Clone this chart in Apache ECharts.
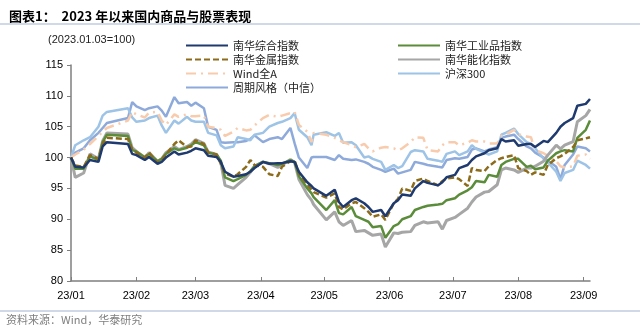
<!DOCTYPE html>
<html>
<head>
<meta charset="utf-8">
<script src="https://cdn.jsdelivr.net/npm/echarts@6/dist/echarts.min.js"></script>
<style>
html,body{margin:0;padding:0;background:#fff;}
#chart{width:640px;height:329px;}
</style>
</head>
<body>
<div id="chart"></div>
<script>
// ---- data ----
const dates = [
 '2023-01-03','2023-01-05','2023-01-09','2023-01-12','2023-01-16','2023-01-18','2023-01-20','2023-01-30','2023-02-01','2023-02-03',
 '2023-02-07','2023-02-09','2023-02-13','2023-02-15','2023-02-17','2023-02-21','2023-02-23','2023-02-27','2023-03-01','2023-03-03',
 '2023-03-07','2023-03-09','2023-03-13','2023-03-15','2023-03-17','2023-03-21','2023-03-23','2023-03-27','2023-03-29','2023-03-31',
 '2023-04-04','2023-04-07','2023-04-11','2023-04-13','2023-04-17','2023-04-19','2023-04-21','2023-04-25','2023-04-27','2023-04-28',
 '2023-05-04','2023-05-08','2023-05-10','2023-05-12','2023-05-16','2023-05-18','2023-05-22','2023-05-24','2023-05-26','2023-05-30',
 '2023-06-01','2023-06-05','2023-06-07','2023-06-09','2023-06-13','2023-06-15','2023-06-19','2023-06-21','2023-06-26','2023-06-28',
 '2023-06-30','2023-07-04','2023-07-06','2023-07-10','2023-07-12','2023-07-14','2023-07-18','2023-07-20','2023-07-24','2023-07-26',
 '2023-07-28','2023-08-01','2023-08-03','2023-08-07','2023-08-09','2023-08-11','2023-08-15','2023-08-17','2023-08-21','2023-08-23',
 '2023-08-25','2023-08-29','2023-08-31','2023-09-04','2023-09-06'
];
const nanhuaComposite = [
 100, 98.5, 98.4, 99.6, 99.3, 101.8, 102.5, 102.2, 100.6, 100.4,
 99.6, 100.1, 99.0, 99.3, 100.0, 101.0, 100.5, 100.8, 101.1, 101.5,
 101.2, 100.3, 100.1, 99.3, 97.7, 96.9, 97.0, 97.3, 97.7, 98.3,
 99.3, 99.0, 99.1, 99.1, 99.4, 99.3, 97.7, 96.0, 95.4, 95.0,
 93.8, 94.8, 92.8, 92.0, 93.1, 93.4, 92.6, 92.0, 91.2, 91.5,
 90.5, 92.6, 93.1, 94.0, 93.8, 95.0, 96.2, 95.9, 95.5, 96.0,
 96.8, 97.2, 98.3, 98.8, 99.6, 100.2, 100.7, 101.2, 101.5, 103.0,
 102.6, 102.8, 101.9, 102.2, 102.2, 101.7, 102.7, 102.5, 104.0, 105.0,
 105.6, 106.4, 108.4, 108.7, 109.5
];
const nanhuaIndustrial = [
 100, 98.2, 98.2, 100.2, 99.6, 102.5, 103.7, 103.5, 101.2, 101.0,
 100.0, 100.6, 99.4, 99.8, 100.6, 101.5, 101.2, 101.6, 102.0, 102.5,
 102.0, 100.8, 100.5, 99.5, 96.8, 96.2, 96.5, 97.2, 97.8, 98.6,
 99.3, 99.1, 98.8, 99.0, 99.6, 99.3, 97.0, 95.0, 94.2, 93.6,
 91.5, 93.1, 91.0, 90.8, 92.0, 90.5, 89.9, 89.6, 88.7, 88.9,
 87.0, 88.9, 89.2, 90.0, 90.5, 91.5, 92.0, 92.2, 92.4, 92.5,
 93.1, 93.4, 94.0, 94.7, 95.2, 96.2, 96.0, 97.2, 96.9, 98.8,
 99.3, 99.8, 99.8, 98.5, 98.7, 98.1, 98.4, 99.5, 100.7, 101.0,
 101.2, 101.0, 103.2, 104.5, 106.0
];
const nanhuaMetal = [
 100, 98.7, 98.5, 100.4, 99.8, 102.2, 103.2, 103.0, 101.3, 100.8,
 100.0, 100.8, 99.2, 99.6, 100.5, 102.2, 102.8, 101.7, 101.8, 102.8,
 102.2, 100.8, 100.5, 99.0, 97.4, 96.9, 97.3, 98.5, 99.6, 98.8,
 98.5, 97.3, 97.0, 98.5, 99.4, 99.5, 97.5, 95.6, 94.8, 94.4,
 93.5, 94.2, 92.0, 91.6, 92.6, 92.8, 91.8, 91.2, 90.4, 90.8,
 89.9, 92.6, 93.3, 95.0, 94.6, 96.2, 96.6, 96.2, 95.5, 96.2,
 96.6, 96.8, 96.5, 95.4, 98.3, 98.0, 97.8, 98.6, 99.6, 99.9,
 100.1, 100.4, 98.3, 97.8, 97.2, 97.6, 97.2, 98.8, 99.9, 100.2,
 100.6, 101.7, 102.8, 103.1, 103.3
];
const nanhuaEnergyChem = [
 100, 96.8, 97.5, 100.6, 99.8, 102.7, 104.0, 103.8, 101.6, 101.0,
 100.0, 100.8, 99.4, 99.8, 100.8, 101.8, 101.3, 101.8, 102.2, 102.9,
 102.3, 100.9, 100.5, 99.2, 95.5, 95.0, 95.6, 96.8, 97.6, 98.6,
 99.3, 99.0, 98.4, 98.8, 99.7, 99.2, 96.5, 94.0, 93.1, 92.4,
 89.9, 91.2, 89.6, 89.0, 89.8, 88.0, 88.2, 87.8, 87.4, 87.6,
 85.5, 87.8, 87.7, 87.9, 88.0, 89.0, 89.6, 89.4, 89.6, 88.4,
 89.8, 90.3, 90.8, 91.8, 92.8, 93.6, 94.4, 94.5, 95.6, 98.0,
 98.3, 98.0, 97.6, 98.3, 98.3, 98.6, 99.4, 100.4, 102.0, 101.4,
 102.0, 102.6, 105.8, 106.8, 107.8
];
const windAllA = [
 100, 100.5, 101.3, 102.2, 103.5, 104.2, 104.8, 106.0, 107.4, 107.0,
 106.5, 107.3, 107.4, 106.0, 105.3, 107.0, 106.6, 107.0, 106.7, 106.7,
 106.8, 105.0, 104.8, 104.5, 103.5, 104.2, 104.8, 104.4, 104.5, 105.2,
 106.4, 106.9, 106.6, 106.8, 107.2, 107.4, 105.3, 104.2, 102.5, 104.0,
 103.7, 103.2, 102.8, 102.5, 102.0, 101.7, 102.2, 101.5, 101.0, 101.6,
 101.7, 101.5, 101.2, 101.5, 102.5, 103.3, 103.2, 101.2, 101.0, 102.0,
 102.5, 102.5, 102.0, 102.4, 102.8, 102.6, 102.6, 102.3, 102.3, 103.5,
 103.7, 104.5, 103.8, 103.4, 103.3, 101.2, 100.7, 100.3, 99.4, 98.6,
 98.4, 98.6, 100.3, 100.5, 99.8
];
const csi300 = [
 100, 102.0, 102.8, 103.3, 105.0, 106.8, 107.4, 108.0, 106.5, 105.8,
 106.0, 106.4, 106.8, 105.2, 104.0, 106.0, 105.5, 106.6, 106.0, 105.8,
 105.8, 104.0, 103.6, 102.0, 101.5, 101.8, 103.3, 103.0, 102.8, 103.7,
 104.0, 105.0, 105.6, 105.8, 106.4, 107.2, 104.5, 103.3, 102.0, 103.7,
 104.1, 103.5, 104.0, 102.4, 102.5, 102.0, 100.0, 100.2, 99.8, 99.3,
 98.0, 98.8, 98.3, 98.6, 100.9, 101.2, 101.0, 99.8, 99.5, 99.3,
 100.6, 101.0, 100.4, 101.0, 102.0, 101.4, 100.8, 100.5, 101.0, 103.7,
 104.0, 104.7, 103.8, 102.5, 102.2, 101.5, 99.8, 99.2, 97.7, 96.2,
 97.5, 98.0, 99.5, 98.8, 98.2
];
const cyclicalStyle = [
 100, 100.8, 101.5, 102.8, 104.0, 104.8, 105.6, 106.4, 109.0, 108.3,
 107.7, 108.0, 108.3, 107.6, 106.6, 109.8, 108.8, 109.0, 108.4, 108.9,
 108.0, 105.0, 104.5, 102.5, 102.4, 102.5, 102.5, 102.7, 103.0, 103.6,
 102.5, 103.0, 103.3, 103.0, 104.8, 102.3, 100.0, 98.3, 100.0, 100.1,
 100.1, 99.6, 100.4, 99.8, 99.6, 99.7, 99.3, 99.0, 98.5, 98.0,
 97.7, 98.2, 97.4, 97.6, 98.0, 99.3, 99.0, 98.8, 98.5, 98.4,
 99.6, 99.9, 99.8, 100.1, 101.3, 101.5, 101.0, 101.3, 101.7, 103.2,
 103.4, 103.7, 103.0, 101.8, 101.5, 100.8, 100.0, 99.5, 98.5, 96.5,
 98.8, 100.5, 101.8, 101.5, 101.0
];
const xTickDates = ['2023-01-03','2023-02-03','2023-03-03','2023-04-03','2023-05-03','2023-06-03','2023-07-03','2023-08-03','2023-09-03'];
const xRange = ['2023-01-03', '2023-09-06'];
const yTicks = {min: 80, max: 115, step: 5};
const titleText = '图表1：  2023 年以来国内商品与股票表现';
const baseText = '(2023.01.03=100)';
const sourceText = '资料来源：Wind，华泰研究';
const names = ['南华综合指数','南华工业品指数','南华金属指数','南华能化指数','Wind全A','沪深300','周期风格（中信）'];

// ---- chart ----
const ts = s => { const p = s.split('-').map(Number); return new Date(p[0], p[1] - 1, p[2]).getTime(); };
const pairs = arr => dates.map((d, i) => [ts(d), arr[i]]);
const tickValues = xTickDates.map(ts);
const fmt = v => { const d = new Date(v); return String(d.getFullYear()).slice(2) + '/' + String(d.getMonth() + 1).padStart(2, '0'); };

const chart = echarts.init(document.getElementById('chart'), null, {renderer: 'canvas'});
const cjk = '"Noto Sans CJK SC", sans-serif';
const mk = (name, data, color, width, type, z) => ({
  name, type: 'line', data: pairs(data), symbol: 'none', showSymbol: false, z: z,
  lineStyle: {color, width, type: type || 'solid'}, itemStyle: {color}
});
const legendBase = {orient: 'vertical', top: 35, itemWidth: 42, itemHeight: 12, itemGap: 3,
  itemStyle: {opacity: 0, borderWidth: 0},
  textStyle: {fontSize: 11, color: '#222', fontFamily: cjk}};
chart.setOption({
  animation: false,
  backgroundColor: '#fff',
  title: {text: titleText, left: 4, top: 5, textStyle: {fontSize: 13, fontWeight: 'bold', color: '#000', fontFamily: cjk}},
  grid: {left: 71, right: 50, top: 65, bottom: 48},
  legend: [
    Object.assign({data: [names[0], names[2], names[4], names[6]], left: 180}, legendBase),
    Object.assign({data: [names[1], names[3], names[5]], left: 392}, legendBase)
  ],
  xAxis: {
    type: 'value',
    min: ts(xRange[0]),
    max: ts(xRange[1]),
    axisLine: {lineStyle: {color: '#7f7f7f', width: 1.5}},
    axisTick: {show: true, inside: true, length: 4, customValues: tickValues, lineStyle: {color: '#7f7f7f'}},
    axisLabel: {customValues: tickValues, formatter: fmt, fontSize: 11, color: '#000', fontFamily: 'Arial', margin: 9, hideOverlap: false},
    splitLine: {show: false}
  },
  yAxis: {
    type: 'value', min: yTicks.min, max: yTicks.max, interval: yTicks.step,
    axisLine: {show: true, lineStyle: {color: '#7f7f7f', width: 1.5}},
    axisTick: {show: true, length: 4, lineStyle: {color: '#7f7f7f'}},
    axisLabel: {fontSize: 11, color: '#000', fontFamily: 'Arial', margin: 8},
    splitLine: {show: false}
  },
  graphic: [
    {type: 'line', shape: {x1: 0, y1: 24, x2: 640, y2: 24}, style: {stroke: '#9fb3cf', lineWidth: 1}},
    {type: 'line', shape: {x1: 0, y1: 311, x2: 640, y2: 311}, style: {stroke: '#9fb3cf', lineWidth: 1}},
    {type: 'text', left: 48, top: 34, style: {text: baseText, fontSize: 11, fill: '#222', fontFamily: 'Arial'}},
    {type: 'text', left: 6, top: 314, style: {text: sourceText, fontSize: 11, fill: '#7f7f7f', fontFamily: cjk}}
  ],
  series: [
    mk(names[6], cyclicalStyle, '#8eaadb', 2.5, 'solid', 2),
    mk(names[5], csi300, '#9dc3e6', 2.5, 'solid', 3),
    mk(names[4], windAllA, '#f8cbad', 2.5, [10, 5, 2, 5], 4),
    mk(names[3], nanhuaEnergyChem, '#a6a6a6', 3, 'solid', 5),
    mk(names[1], nanhuaIndustrial, '#5b8c3a', 2.5, 'solid', 6),
    mk(names[2], nanhuaMetal, '#8c6b1a', 2.5, [6, 3], 7),
    mk(names[0], nanhuaComposite, '#1f3a6e', 2.5, 'solid', 8)
  ]
});
</script>
</body>
</html>
